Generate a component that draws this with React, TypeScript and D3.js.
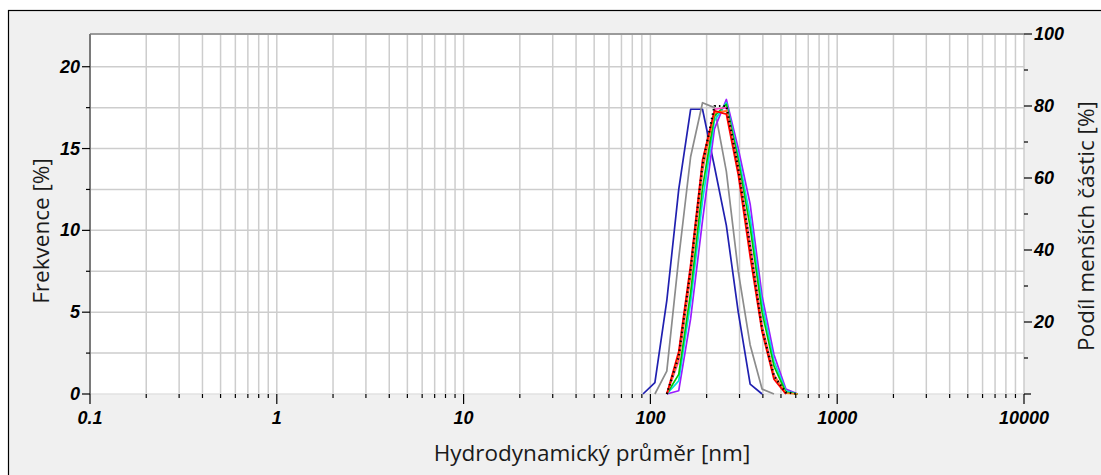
import React from "react";
import * as d3 from "d3";

// ---- Data ----
const sizesNm = [78.82, 91.28, 105.7, 122.4, 141.8, 164.2, 190.1, 220.2, 255.0, 295.3, 342.0, 396.1, 458.7, 531.2, 615.1];

const seriesBlue = [null, 0, 0.7, 5.7, 12.5, 17.4, 17.4, 13.9, 10.3, 5.0, 0.6, 0, null, null, null];
const seriesGray = [null, null, 0, 1.4, 8.3, 14.5, 17.8, 17.5, 13.6, 7.5, 3.0, 0.3, 0, null, null];
const seriesRed = [null, null, null, 0, 2.6, 7.9, 14.3, 17.3, 17.1, 13.4, 8.4, 3.8, 0.9, 0, null];
const seriesOrange = [null, null, null, 0, 2.2, 7.4, 13.8, 17.2, 17.3, 13.7, 8.8, 4.0, 1.1, 0.05, 0];
const seriesMagenta = [null, null, null, 0, 2.0, 7.2, 13.6, 17.4, 17.5, 13.9, 9.2, 4.2, 1.2, 0, null];
const seriesBlack = [null, null, null, 0, 2.3, 7.6, 14.0, 17.6, 17.6, 13.8, 9.0, 4.0, 1.1, 0.1, 0];
const seriesGreen = [null, null, null, 0, 1.2, 6.2, 12.6, 17.0, 17.7, 14.3, 10.2, 5.0, 1.7, 0.1, 0];
const seriesCyan = [null, null, null, 0, 0.8, 5.6, 11.8, 16.7, 17.8, 14.6, 10.8, 5.5, 2.0, 0.2, 0];
const seriesPurple = [null, null, null, 0, 0.2, 4.6, 10.6, 16.2, 18.0, 15.0, 11.6, 6.0, 2.4, 0.3, 0];

const xTickValues = [0.1, 1, 10, 100, 1000, 10000];
const xTickLabels = ["0.1", "1", "10", "100", "1000", "10000"];
const yLeftTicks = [0, 5, 10, 15, 20];
const yLeftMinor = [2.5, 7.5, 12.5, 17.5];
const yRightTicks = [20, 40, 60, 80, 100];
const yRightMinor = [10, 30, 50, 70, 90];

const xLabel = "Hydrodynamický průměr [nm]";
const yLeftLabel = "Frekvence [%]";
const yRightLabel = "Podíl menších částic [%]";

const seriesList = [
  { values: seriesBlue, color: "#2020b0", dash: "" },
  { values: seriesGray, color: "#8c8c8c", dash: "" },
  { values: seriesPurple, color: "#9a1cff", dash: "" },
  { values: seriesCyan, color: "#00e0e0", dash: "" },
  { values: seriesGreen, color: "#00cc00", dash: "" },
  { values: seriesMagenta, color: "#ff40c0", dash: "" },
  { values: seriesOrange, color: "#ff8020", dash: "" },
  { values: seriesRed, color: "#ff0000", dash: "" },
  { values: seriesBlack, color: "#000000", dash: "1.5,3" },
];

const W = 1101;
const H = 475;
const L = 90, R = 1024, T = 34, B = 394;

export default function App() {
  const x = d3.scaleLog().domain([0.1, 10000]).range([L, R]);
  const y = d3.scaleLinear().domain([0, 22]).range([B, T]);
  const yR = d3.scaleLinear().domain([0, 100]).range([B, T]);

  const minorX: number[] = [];
  [0.1, 1, 10, 100, 1000].forEach((d) => {
    for (let k = 2; k <= 9; k++) minorX.push(d * k);
  });
  const gridX = [...minorX, 1, 10, 100, 1000, 10000];
  const gridY = [2.5, 5, 7.5, 10, 12.5, 15, 17.5, 20];

  const line = d3
    .line<number | null>()
    .defined((d) => d !== null)
    .x((_, i) => x(sizesNm[i]))
    .y((d) => y(d as number));

  const tickFont = {
    fontFamily: "'Liberation Sans', Arial, sans-serif",
    fontWeight: 700,
    fontStyle: "italic",
    fontSize: 18,
  } as const;
  const titleFont = {
    fontFamily: "'Open Sans', 'Noto Sans', sans-serif",
    fontSize: 22.5,
    fill: "#1a1a1a",
  } as const;

  return (
    <svg
      width={W}
      height={H}
      style={{ position: "absolute", left: 0, top: 0, display: "block" }}
    >
      <rect x={0} y={0} width={W} height={H} fill="#ffffff" />
      <rect x={8.5} y={10.5} width={W + 20} height={H + 20} fill="#f0f0f0" stroke="#000" strokeWidth={1.2} />
      <rect x={L} y={T} width={R - L} height={B - T} fill="#ffffff" />

      {gridX.map((v, i) => (
        <line key={"gx" + i} x1={x(v)} x2={x(v)} y1={T} y2={B} stroke="#cdcdcd" strokeWidth={1.5} />
      ))}
      {gridY.map((v, i) => (
        <line key={"gy" + i} x1={L} x2={R} y1={y(v)} y2={y(v)} stroke="#cdcdcd" strokeWidth={1.5} />
      ))}
      <line x1={L} x2={R} y1={B} y2={B} stroke="#e2e2e2" strokeWidth={1.5} />
      <line x1={L} x2={R} y1={T} y2={T} stroke="#9a9a9a" strokeWidth={2} />
      <line x1={L} x2={L} y1={T} y2={B} stroke="#7a7a7a" strokeWidth={2} />

      {seriesList.map((s, i) => (
        <path
          key={"s" + i}
          d={line(s.values) || ""}
          fill="none"
          stroke={s.color}
          strokeWidth={s.dash ? 2.2 : 1.7}
          strokeDasharray={s.dash || undefined}
          strokeLinejoin="round"
        />
      ))}

      {/* left ticks */}
      {yLeftTicks.map((v) => (
        <g key={"yl" + v}>
          <line x1={L - 8} x2={L} y1={y(v)} y2={y(v)} stroke="#000" strokeWidth={1.2} />
          <text x={80} y={y(v)} textAnchor="end" dominantBaseline="central" {...tickFont}>
            {v}
          </text>
        </g>
      ))}
      {yLeftMinor.map((v) => (
        <line key={"ylm" + v} x1={L - 4} x2={L} y1={y(v)} y2={y(v)} stroke="#000" strokeWidth={1.2} />
      ))}

      {/* right ticks */}
      <line x1={R} x2={R + 7} y1={yR(0)} y2={yR(0)} stroke="#000" strokeWidth={1.2} />
      {yRightTicks.map((v) => (
        <g key={"yr" + v}>
          <line x1={R} x2={R + 8} y1={yR(v)} y2={yR(v)} stroke="#000" strokeWidth={1.2} />
          <text x={1034} y={yR(v)} textAnchor="start" dominantBaseline="central" {...tickFont}>
            {v}
          </text>
        </g>
      ))}
      {yRightMinor.map((v) => (
        <line key={"yrm" + v} x1={R} x2={R + 4} y1={yR(v)} y2={yR(v)} stroke="#000" strokeWidth={1.2} />
      ))}

      {/* bottom ticks */}
      {xTickValues.map((v, i) => (
        <g key={"xt" + i}>
          <line x1={x(v)} x2={x(v)} y1={B} y2={B + 10} stroke="#000" strokeWidth={1.2} />
          <text x={x(v)} y={424} textAnchor="middle" {...tickFont}>
            {xTickLabels[i]}
          </text>
        </g>
      ))}
      {minorX.map((v, i) => (
        <line key={"xm" + i} x1={x(v)} x2={x(v)} y1={B} y2={B + 4} stroke="#000" strokeWidth={1.2} />
      ))}

      {/* titles */}
      <text x={592} y={461} textAnchor="middle" {...titleFont}>
        {xLabel}
      </text>
      <text
        transform={`translate(40,231) rotate(-90)`}
        textAnchor="middle"
        dominantBaseline="central"
        {...titleFont}
      >
        {yLeftLabel}
      </text>
      <text
        transform={`translate(1085,226) rotate(-90)`}
        textAnchor="middle"
        dominantBaseline="central"
        {...titleFont}
      >
        {yRightLabel}
      </text>
    </svg>
  );
}
